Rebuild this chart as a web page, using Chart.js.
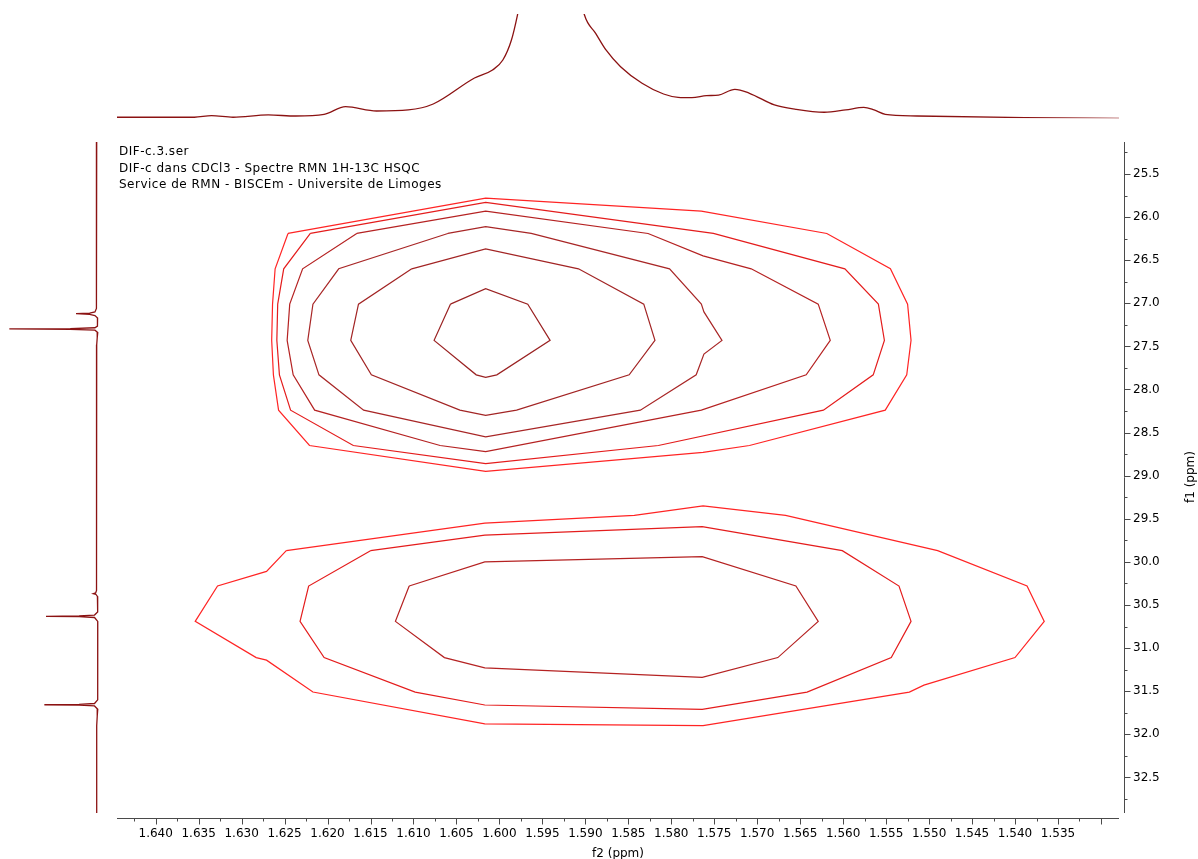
<!DOCTYPE html>
<html>
<head>
<meta charset="utf-8">
<title>DIF-c HSQC</title>
<script src="https://cdn.jsdelivr.net/npm/chart.js@4.4.1/dist/chart.umd.min.js"></script>
<style>
html, body { margin: 0; padding: 0; background: #fff; }
#wrap { position: relative; width: 1198px; height: 859px; overflow: hidden; font-family: "DejaVu Sans", Verdana, sans-serif; }
#wrap canvas { position: absolute; left: 0; top: 0; }
.info { position: absolute; left: 119px; font-size: 12px; letter-spacing: 0.5px; line-height: 12px; color: #000; white-space: nowrap; }
#f1title { position: absolute; left: 1150px; top: 470px; width: 80px; height: 14px; line-height: 14px; font-size: 12px; text-align: center; color: #000; transform: rotate(-90deg); }
</style>
</head>
<body>
<div id="wrap">
  <canvas id="main" width="1198" height="859"></canvas>
  <canvas id="top" width="1198" height="130"></canvas>
  <canvas id="left" width="120" height="859"></canvas>
  <div class="info" style="top:145px">DIF-c.3.ser</div>
  <div class="info" style="top:161.5px">DIF-c dans CDCl3 - Spectre RMN 1H-13C HSQC</div>
  <div class="info" style="top:178px">Service de RMN - BISCEm - Universite de Limoges</div>
  <div id="f1title">f1 (ppm)</div>
</div>
<script>
// axis ranges (ppm)
var f2Min = 1.5279, f2Max = 1.6445;
var f1Min = 25.129, f1Max = 32.913;

var f2TickLabels = ['1.640','1.635','1.630','1.625','1.620','1.615','1.610','1.605','1.600','1.595','1.590',
    '1.585','1.580','1.575','1.570','1.565','1.560','1.555','1.550','1.545','1.540','1.535'];
var f1TickLabels = ['25.5','26.0','26.5','27.0','27.5','28.0','28.5','29.0','29.5','30.0','30.5','31.0','31.5','32.0','32.5'];

// contours [f2, f1], upper cross peak (6 levels) and lower one (3 levels)
var upper1 = [[1.6246,26.19],[1.6016,25.78],[1.5765,25.93],[1.5619,26.19],[1.5545,26.60],[1.5525,27.01],[1.5521,27.43],
    [1.5526,27.83],[1.5551,28.24],[1.5709,28.65],[1.5763,28.73],[1.6016,28.95],[1.6221,28.65],[1.6257,28.24],
    [1.6263,27.83],[1.6265,27.43],[1.6264,27.01],[1.6261,26.60]];
var upper2 = [[1.6220,26.19],[1.6016,25.83],[1.5751,26.19],[1.5598,26.60],[1.5559,27.01],[1.5552,27.43],[1.5565,27.83],
    [1.5623,28.24],[1.5815,28.65],[1.6016,28.86],[1.6170,28.65],[1.6243,28.24],[1.6256,27.83],[1.6259,27.43],
    [1.6258,27.01],[1.6251,26.60]];
var upper3 = [[1.6166,26.19],[1.6016,25.93],[1.5827,26.19],[1.5763,26.45],[1.5707,26.60],[1.5629,27.01],[1.5615,27.43],
    [1.5643,27.83],[1.5765,28.24],[1.6016,28.72],[1.6069,28.65],[1.6215,28.24],[1.6240,27.83],[1.6247,27.43],
    [1.6244,27.01],[1.6229,26.60]];
var upper4 = [[1.6060,26.19],[1.6016,26.11],[1.5963,26.19],[1.5802,26.60],[1.5765,27.01],[1.5762,27.10],[1.5741,27.43],
    [1.5762,27.59],[1.5771,27.83],[1.5836,28.24],[1.6016,28.55],[1.6158,28.24],[1.6210,27.83],[1.6223,27.43],
    [1.6217,27.01],[1.6187,26.60]];
var upper5 = [[1.6102,26.60],[1.6016,26.37],[1.5908,26.60],[1.5832,27.01],[1.5819,27.43],[1.5849,27.83],[1.5980,28.24],
    [1.6016,28.30],[1.6046,28.24],[1.6149,27.83],[1.6173,27.43],[1.6164,27.01]];
var upper6 = [[1.6057,27.01],[1.6016,26.83],[1.5967,27.01],[1.5941,27.43],[1.6003,27.83],[1.6016,27.86],[1.6027,27.83],
    [1.6076,27.43]];
var lower1 = [[1.6248,29.87],[1.6017,29.55],[1.5843,29.46],[1.5763,29.35],[1.5667,29.46],[1.5490,29.87],[1.5386,30.28],
    [1.5366,30.69],[1.5400,31.11],[1.5506,31.43],[1.5523,31.51],[1.5763,31.90],[1.6017,31.88],[1.6217,31.51],
    [1.6271,31.14],[1.6283,31.11],[1.6354,30.69],[1.6328,30.28],[1.6271,30.11]];
var lower2 = [[1.6150,29.87],[1.6017,29.69],[1.5764,29.59],[1.5601,29.87],[1.5535,30.28],[1.5521,30.69],[1.5544,31.11],
    [1.5642,31.51],[1.5764,31.71],[1.6017,31.66],[1.6098,31.51],[1.6204,31.11],[1.6232,30.69],[1.6222,30.28]];
var lower3 = [[1.6105,30.28],[1.6017,30.00],[1.5764,29.94],[1.5655,30.28],[1.5629,30.69],[1.5676,31.11],[1.5764,31.34],
    [1.6017,31.23],[1.6064,31.11],[1.6121,30.69]];
var levelColors = ['#ff2424', '#e41c1c', '#b52222', '#a82626', '#a22424', '#9a2222'];

// 1H projection (top): f2 and relative intensity
var f2Proj = [1.6446,1.6355,1.6335,1.6310,1.6269,1.6237,1.6204,1.6179,1.6143,1.6106,1.6077,1.6029,1.6008,1.5996,
    1.5986,1.5979,1.5965,1.5942,1.5915,1.5901,1.5888,1.5876,1.5859,1.5834,1.5809,1.5792,1.5776,1.5759,1.5745,
    1.5726,1.5709,1.5680,1.5655,1.5622,1.5597,1.5576,1.5564,1.5551,1.5514,1.5389,1.5279];
var f2ProjInt = [0.010,0.010,0.025,0.010,0.032,0.022,0.038,0.111,0.070,0.080,0.137,0.386,0.463,0.559,
    0.751,0.990,1.600,3.000,1.550,0.990,0.815,0.655,0.495,0.336,0.233,0.201,0.198,0.217,0.223,
    0.278,0.240,0.128,0.086,0.058,0.080,0.105,0.080,0.038,0.022,0.006,0.000];

// 13C projection (left): f1 and relative intensity
var f1Proj = [25.13,26.95,27.06,27.100,27.114,27.121,27.128,27.142,27.17,27.22,27.265,27.284,27.294,27.298,27.302,
    27.312,27.34,27.40,27.48,30.25,30.33,30.360,30.369,30.378,30.40,30.45,30.58,30.617,30.627,30.631,30.635,
    30.645,30.69,30.90,31.40,31.60,31.643,31.653,31.657,31.661,31.671,31.71,31.79,31.90,32.92];
var f1ProjInt = [0,0,0.006,0.02,0.08,0.235,0.08,0.02,-0.010,-0.012,-0.005,0.02,0.30,0.993,0.30,
    0.02,-0.012,-0.006,0,0,0.004,0.012,0.039,0.008,-0.008,-0.012,-0.010,0.025,0.20,0.576,0.20,
    0.025,-0.012,-0.012,-0.012,-0.010,0.025,0.20,0.595,0.20,0.025,-0.012,-0.006,0,0];

Chart.defaults.font.family = '"DejaVu Sans", Verdana, sans-serif';
Chart.defaults.font.size = 12;
Chart.defaults.color = '#000';

function toPoints(list) {
    var pts = list.map(function(p){ return {x: p[0], y: p[1]}; });
    pts.push({x: list[0][0], y: list[0][1]});
    return pts;
}
function contourSet(list, level) {
    return {
        data: toPoints(list),
        showLine: true,
        borderColor: levelColors[level],
        borderWidth: 1.2,
        pointRadius: 0,
        tension: 0,
        fill: false
    };
}

// axis lines and tick marks, sitting a little outside the plot area
var axisMarks = {
    id: 'axisMarks',
    afterDraw: function(chart) {
        var ctx = chart.ctx, a = chart.chartArea, sx = chart.scales.x, sy = chart.scales.y;
        var xAxisY = a.bottom + 5.5, yAxisX = Math.round(a.right) + 5.5;
        ctx.save();
        ctx.strokeStyle = '#4a4a4a';
        ctx.lineWidth = 1;
        ctx.beginPath();
        ctx.moveTo(a.left, xAxisY); ctx.lineTo(a.right, xAxisY);
        ctx.moveTo(yAxisX, a.top); ctx.lineTo(yAxisX, a.bottom);
        for (var k = 0; k < 60; k++) {
            var v = 1.6425 - k * 0.0025;
            if (v < f2Min) break;
            var px = Math.round(sx.getPixelForValue(v)) + 0.5;
            ctx.moveTo(px, xAxisY); ctx.lineTo(px, xAxisY + (k % 2 ? 6 : 3));
        }
        for (var j = 0; j < 60; j++) {
            var w = 25.25 + j * 0.25;
            if (w > f1Max) break;
            var py = Math.round(sy.getPixelForValue(w)) + 0.5;
            ctx.moveTo(yAxisX, py); ctx.lineTo(yAxisX + (j % 2 ? 6 : 3), py);
        }
        ctx.stroke();
        ctx.restore();
    }
};

var mainChart = new Chart(document.getElementById('main'), {
    type: 'scatter',
    data: {
        datasets: [
            contourSet(upper1, 0), contourSet(upper2, 1), contourSet(upper3, 2),
            contourSet(upper4, 3), contourSet(upper5, 4), contourSet(upper6, 5),
            contourSet(lower1, 0), contourSet(lower2, 1), contourSet(lower3, 2)
        ]
    },
    options: {
        responsive: false,
        animation: false,
        layout: { padding: { left: 117, top: 142, right: 0, bottom: 0 } },
        plugins: { legend: { display: false }, tooltip: { enabled: false } },
        scales: {
            x: {
                type: 'linear', position: 'bottom', reverse: true, min: f2Min, max: f2Max,
                afterFit: function(s){ s.height = 46; },
                afterBuildTicks: function(s){ s.ticks = f2TickLabels.map(function(t){ return {value: Number(t)}; }); },
                ticks: { callback: function(v, i){ return f2TickLabels[i]; }, padding: 14, autoSkip: false, maxRotation: 0, minRotation: 0 },
                grid: { display: false, drawTicks: false },
                border: { display: false },
                title: { display: true, text: 'f2 (ppm)', padding: 0, font: { size: 12, lineHeight: 0.8 } }
            },
            y: {
                type: 'linear', position: 'right', reverse: true, min: f1Min, max: f1Max,
                afterFit: function(s){ s.width = 79; },
                afterBuildTicks: function(s){ s.ticks = f1TickLabels.map(function(t){ return {value: Number(t)}; }); },
                ticks: { callback: function(v, i){ return f1TickLabels[i]; }, padding: 14, autoSkip: false },
                grid: { display: false, drawTicks: false },
                border: { display: false }
            }
        }
    },
    plugins: [axisMarks]
});

var topChart = new Chart(document.getElementById('top'), {
    type: 'scatter',
    data: {
        datasets: [{
            data: f2Proj.map(function(v, i){ return {x: v, y: f2ProjInt[i]}; }),
            showLine: true, borderColor: '#8b1212', borderWidth: 1.3, pointRadius: 0,
            cubicInterpolationMode: 'monotone'
        }]
    },
    options: {
        responsive: false,
        animation: false,
        elements: { line: { capBezierPoints: false } },
        layout: { padding: { left: 117, right: 79, top: 14, bottom: 11.7 } },
        plugins: { legend: { display: false }, tooltip: { enabled: false } },
        scales: {
            x: { type: 'linear', display: false, reverse: true, min: f2Min, max: f2Max },
            y: { type: 'linear', display: false, min: 0, max: 1 }
        }
    }
});

var leftChart = new Chart(document.getElementById('left'), {
    type: 'scatter',
    data: {
        datasets: [{
            data: f1Proj.map(function(v, i){ return {x: f1ProjInt[i], y: v}; }),
            showLine: true, borderColor: '#8b1212', borderWidth: 1.3, pointRadius: 0, tension: 0
        }]
    },
    options: {
        responsive: false,
        animation: false,
        layout: { padding: { left: 8.7, right: 18.9, top: 142, bottom: 46 } },
        plugins: { legend: { display: false }, tooltip: { enabled: false } },
        scales: {
            x: { type: 'linear', display: false, reverse: true, min: -0.05, max: 1 },
            y: { type: 'linear', display: false, reverse: true, min: f1Min, max: f1Max }
        }
    }
});
</script>
</body>
</html>
